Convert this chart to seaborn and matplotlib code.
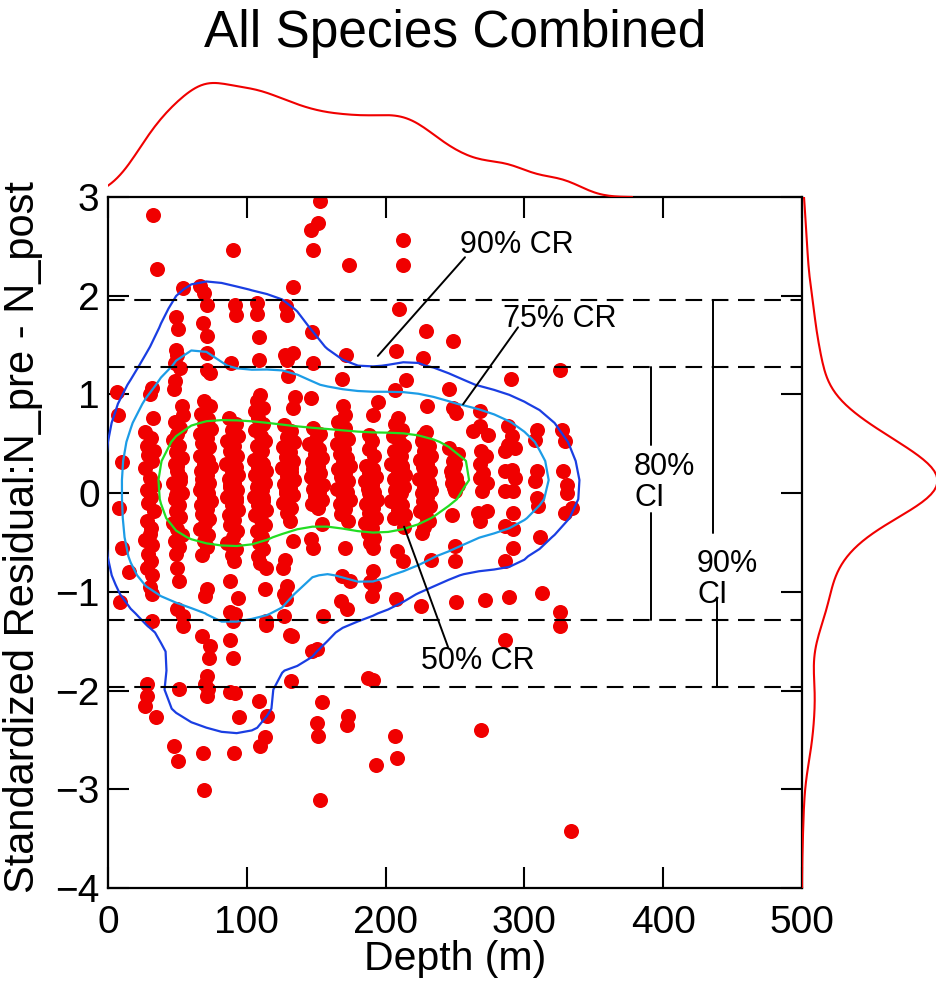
import matplotlib
matplotlib.use("Agg")
import matplotlib.pyplot as plt
import numpy as np
import pandas as pd
import seaborn as sns

# (depth in m, standardized residual N_pre - N_post) for each haul,
# grouped by the depth band it was sampled in
band_008 = [(6.5, 1.02), (7, 0.79), (10, 0.32), (8, -0.15), (10, -0.56), (15, -0.80), (8.6, -1.10)]

band_030 = [(32.4, 2.82), (35.3, 2.27), (31.7, 1.07), (30, 1.00), (32.4, 0.76), (27, 0.62), (31, 0.56),
            (28, 0.48), (33, 0.43), (29, 0.39), (32, 0.33), (27, 0.25), (30, 0.15), (33, 0.08), (28, 0.03),
            (31, -0.04), (29, -0.10), (33, -0.18), (28, -0.28), (31, -0.35), (30, -0.41), (27, -0.47),
            (32, -0.53), (29, -0.62), (31, -0.69), (28, -0.76), (32, -0.83), (30, -0.95), (31.7, -1.02),
            (31.7, -1.30), (28, -1.93), (28, -2.05), (26.6, -2.16), (34.6, -2.27)]

band_050 = [(54, 2.08), (49, 1.78), (50.4, 1.66), (49, 1.45), (49.7, 1.40), (48.3, 1.32), (51.9, 1.27),
            (48.3, 1.14), (47.5, 1.05), (53, 0.88), (54, 0.79), (48, 0.72), (52, 0.66), (50, 0.60),
            (47, 0.54), (51, 0.48), (49, 0.42), (53, 0.36), (48, 0.30), (50, 0.22), (52, 0.16), (47, 0.10),
            (50, 0.05), (53, 0.00), (48, -0.06), (51, -0.12), (49, -0.18), (52, -0.24), (47, -0.30),
            (50, -0.36), (53, -0.42), (48, -0.48), (51, -0.55), (49, -0.62), (50, -0.76), (51, -0.89),
            (49.7, -1.17), (54, -1.24), (54, -1.35), (51, -1.98), (47.5, -2.56), (50.4, -2.71),
            (50, 0.28), (52, 0.12), (49, -0.02)]

band_070 = [(66, 2.10), (69, 2.03), (71, 1.91), (68.4, 1.72), (71.3, 1.59), (71, 1.42), (71, 1.25),
            (73.5, 1.22), (69, 0.93), (73.5, 0.88), (67, 0.80), (72, 0.75), (69, 0.70), (74, 0.65),
            (66, 0.60), (71, 0.56), (68, 0.51), (73, 0.47), (70, 0.42), (66, 0.38), (72, 0.34), (69, 0.30),
            (74, 0.26), (67, 0.22), (71, 0.18), (68, 0.14), (73, 0.10), (70, 0.06), (66, 0.03), (72, 0.00),
            (69, -0.04), (74, -0.08), (67, -0.12), (71, -0.16), (68, -0.21), (73, -0.26), (70, -0.31),
            (66, -0.36), (72, -0.42), (69, -0.48), (71, -0.55), (68, -0.63), (71, -0.97), (70, -1.04),
            (67.7, -1.45), (73.5, -1.55), (72.8, -1.67), (71, -1.85), (70, -1.93), (72, -1.98),
            (71, -2.06), (68.4, -2.63), (69, -3.01),
            (70, 0.20), (68, 0.08), (72, -0.06), (70, 0.32), (69, -0.18)]

band_090 = [(90, 2.46), (91.5, 1.91), (92, 1.80), (88.6, 1.32), (87, 0.76), (92, 0.70), (89, 0.64),
            (94, 0.58), (86, 0.53), (91, 0.48), (88, 0.43), (93, 0.38), (90, 0.34), (85, 0.30), (92, 0.26),
            (89, 0.22), (94, 0.18), (87, 0.14), (91, 0.10), (88, 0.06), (93, 0.03), (90, 0.00), (86, -0.04),
            (92, -0.08), (89, -0.12), (94, -0.17), (87, -0.22), (91, -0.27), (88, -0.32), (93, -0.38),
            (90, -0.44), (86, -0.50), (92, -0.57), (89, -0.63), (91, -0.69), (88, -0.89), (94, -1.06),
            (88, -1.20), (91.5, -1.22), (90, -1.30), (88, -1.49), (90, -1.67), (88, -2.01), (91.5, -2.02),
            (94.4, -2.27), (90.8, -2.63),
            (90, 0.20), (88, 0.08), (92, -0.05), (90, 0.30), (89, -0.20)]

band_110 = [(107, 1.93), (107, 1.81), (108.8, 1.58), (108.8, 1.35), (109.5, 0.99), (107, 0.93),
            (111.7, 0.86), (106, 0.83), (108, 0.76), (112, 0.70), (106, 0.64), (110, 0.58), (113, 0.53),
            (107, 0.48), (111, 0.43), (109, 0.38), (105, 0.34), (112, 0.30), (108, 0.26), (114, 0.22),
            (106, 0.18), (110, 0.14), (113, 0.10), (107, 0.06), (111, 0.03), (109, 0.00), (105, -0.04),
            (112, -0.08), (108, -0.12), (114, -0.17), (106, -0.22), (110, -0.27), (113, -0.32),
            (107, -0.38), (111, -0.44), (109, -0.50), (112, -0.57), (108, -0.64), (109.5, -0.71),
            (114, -0.76), (113, -0.97), (114, -1.30), (114, -1.34), (109, -2.11), (114.5, -2.26),
            (113, -2.47), (109.5, -2.56),
            (110, 0.20), (108, 0.08), (112, -0.05), (110, 0.32), (109, -0.18)]

band_130 = [(133, 2.09), (128, 1.90), (129, 1.80), (133, 1.42), (127.5, 1.40), (129, 1.35), (129.7, 1.19),
            (134.7, 0.97), (133, 0.86), (127, 0.69), (132, 0.63), (129, 0.57), (134, 0.52), (126, 0.47),
            (131, 0.42), (128, 0.37), (133, 0.33), (130, 0.29), (125, 0.25), (132, 0.21), (129, 0.17),
            (134, 0.13), (127, 0.09), (131, 0.05), (128, 0.02), (133, -0.02), (130, -0.06), (126, -0.10),
            (132, -0.15), (129, -0.20), (131, -0.28), (133, -0.48), (127.5, -0.68), (126, -0.76),
            (129, -0.94), (127, -1.02), (128, -1.07), (127, -1.24), (131, -1.44), (132.6, -1.45),
            (132, -1.90),
            (130, 0.12), (128, 0.00), (132, 0.25), (130, -0.12)]

band_150 = [(152.7, 2.96), (151, 2.74), (146, 2.67), (147.7, 2.46), (147, 1.63), (147.7, 1.32), (146, 0.96),
            (148, 0.66), (153, 0.60), (150, 0.55), (145, 0.50), (152, 0.45), (149, 0.40), (154, 0.36),
            (147, 0.32), (151, 0.28), (148, 0.24), (153, 0.20), (146, 0.16), (150, 0.12), (155, 0.08),
            (148, 0.04), (152, 0.01), (149, -0.03), (154, -0.07), (147, -0.11), (151, -0.15), (154, -0.31),
            (146, -0.46), (148, -0.56), (155, -1.24), (147, -1.60), (150.6, -1.58), (154, -2.12),
            (150.6, -2.33), (151, -2.46), (152.7, -3.11),
            (150, 0.15), (152, 0.05), (148, 0.30), (150, -0.08)]

band_170 = [(173.6, 2.31), (171.5, 1.40), (168.6, 1.16), (169, 0.88), (170.7, 0.79), (166, 0.72),
            (171, 0.66), (168, 0.60), (173, 0.55), (165, 0.50), (170, 0.45), (167, 0.40), (172, 0.36),
            (169, 0.32), (174, 0.28), (166, 0.24), (171, 0.20), (168, 0.16), (173, 0.12), (170, 0.08),
            (165, 0.04), (172, 0.01), (169, -0.03), (174, -0.07), (167, -0.11), (171, -0.16), (168, -0.21),
            (173, -0.28), (170.7, -0.56), (168.6, -0.84), (174, -0.89), (168, -1.09), (172, -1.17),
            (173, -2.26), (172, -2.35),
            (170, 0.15), (168, 0.05), (172, 0.30), (170, -0.10)]

band_190 = [(194.5, 0.92), (191, 0.79), (188, 0.59), (190, 0.53), (188, 0.45), (192, 0.38), (186, 0.28),
            (191, 0.24), (188, 0.20), (193, 0.16), (185, 0.12), (190, 0.08), (187, 0.04), (192, 0.01),
            (189, -0.03), (194, -0.07), (186, -0.11), (191, -0.15), (188, -0.20), (193, -0.25),
            (185, -0.30), (190, -0.35), (187, -0.40), (192, -0.45), (189, -0.50), (191, -0.56),
            (191, -0.79), (189, -0.90), (192, -0.94), (190, -1.04), (187, -1.87), (191, -1.89),
            (193, -2.75),
            (190, 0.10), (188, 0.00), (192, 0.18), (190, -0.12)]

band_210 = [(212.5, 2.56), (212.5, 2.31), (209.7, 1.87), (207.5, 1.44), (214.7, 1.15), (206.8, 1.04),
            (209, 0.76), (207, 0.70), (212, 0.64), (205, 0.58), (210, 0.53), (213, 0.48), (206, 0.43),
            (211, 0.38), (208, 0.34), (204, 0.30), (212, 0.26), (209, 0.22), (214, 0.18), (206, 0.14),
            (210, 0.10), (213, 0.06), (207, 0.03), (211, 0.00), (208, -0.04), (204, -0.08), (212, -0.12),
            (209, -0.17), (214, -0.22), (206, -0.25), (213.3, -0.34), (208, -0.59), (212.5, -0.69),
            (207.5, -1.07), (206.8, -2.46), (208, -2.68),
            (210, 0.15), (208, 0.05), (212, 0.28), (210, -0.08)]

band_230 = [(229, 1.64), (227, 1.37), (230, 0.88), (229, 0.62), (227, 0.58), (226, 0.53), (231, 0.48),
            (228, 0.43), (233, 0.38), (225, 0.34), (230, 0.30), (227, 0.26), (232, 0.22), (229, 0.18),
            (224, 0.14), (231, 0.10), (228, 0.06), (233, 0.03), (226, 0.00), (230, -0.04), (227, -0.08),
            (232, -0.13), (225, -0.18), (229, -0.23), (231, -0.28), (228, -0.34), (226, -0.40),
            (233, -0.68), (225.5, -1.14),
            (229, 0.12), (231, 0.02), (228, 0.25), (230, -0.10)]

band_250 = [(248.6, 1.54), (246, 1.05), (248.6, 0.86), (251, 0.81), (246, 0.46), (251, 0.39), (248.6, 0.33),
            (249, 0.26), (247.8, 0.18), (251, 0.12), (252, 0.08), (250, 0.02), (248, -0.22), (250, -0.54),
            (250, -0.69), (251, -1.10),
            (249, 0.05), (251, 0.15), (247, 0.22), (250, 0.30), (252, 0.40), (248, 0.10)]

band_270 = [(268, 0.83), (268, 0.68), (263, 0.63), (274, 0.59), (269, 0.43), (268, 0.15), (273, 0.10),
            (269.5, 0.02), (266.6, -0.20), (273, -0.18), (268, -0.28), (271.6, -1.08), (268.7, -2.40),
            (268, 0.30), (270, 0.20), (272, 0.38)]

band_290 = [(290, 1.16), (288, 0.68), (291, 0.58), (288, 0.49), (293, 0.46), (286, 0.43), (286, 0.22),
            (291, 0.23), (293, 0.15), (286, 0.02), (292, 0.02), (292, -0.20), (286, -0.33), (292, -0.36),
            (292, -0.56), (286, -0.69), (289, -1.05), (286, -1.49)]

band_310 = [(309, 0.64), (307.6, 0.54), (309, 0.22), (307.6, 0.12), (309, -0.05), (310, -0.13),
            (311, -0.44), (313, -1.01)]

band_330 = [(325.6, 1.25), (327, 0.64), (329, 0.53), (328, 0.22), (331, 0.08), (330.7, 0.00), (334, -0.15),
            (329, -0.20), (325.6, -1.20), (326, -1.35), (333.6, -3.42)]

bands = [band_008, band_030, band_050, band_070, band_090, band_110, band_130, band_150, band_170,
         band_190, band_210, band_230, band_250, band_270, band_290, band_310, band_330]

# two-sided normal critical values for the 80% and 90% intervals
ci_bounds = [1.2816, 1.96]
# credible regions: share of hauls enclosed by each density contour
cr_mass = [0.90, 0.75, 0.50]

RED = "#f00000"
CR_COLORS = ["#1a3ee2", "#1c9ce6", "#22dd22"]

df = pd.DataFrame([p for b in bands for p in b], columns=["depth", "resid"])
depth = df["depth"].to_numpy(float)
resid = df["resid"].to_numpy(float)

# --- highest-density credible regions ---------------------------------------
# Gaussian product-kernel density with separate bandwidths for depth and
# residual; each region is the density level set enclosing the stated share
# of hauls.
HX, HY = 22.0, 0.32
gx = np.linspace(-60, 420, 45)
gy = np.linspace(-4.5, 3.8, 44)
gxx, gyy = np.meshgrid(gx, gy)


def density(px, py):
    u = (px[..., None] - depth) / HX
    v = (py[..., None] - resid) / HY
    return np.exp(-0.5 * (u * u + v * v)).sum(-1)


grid_dens = density(gxx, gyy)
point_dens = density(depth, resid)
thresholds = np.quantile(point_dens, [1 - m for m in cr_mass])

sns.set_style("ticks")
plt.rcParams.update({
    "font.family": ["Liberation Sans", "DejaVu Sans"],
    "text.color": "black",
    "axes.labelcolor": "black",
    "xtick.color": "black",
    "ytick.color": "black",
    "axes.edgecolor": "black",
})

W, H = 936, 999
fig = plt.figure(figsize=(W / 100, H / 100), dpi=100)


def rect(left, top, right, bottom):
    return [left / W, 1 - bottom / H, (right - left) / W, (bottom - top) / H]


ax = fig.add_axes(rect(108, 197, 802, 888))
ax_top = fig.add_axes(rect(108, 77, 802, 197))
ax_right = fig.add_axes(rect(802, 197, 936, 888))

# joint scatter and density credible regions
sns.scatterplot(data=df, x="depth", y="resid", color=RED, s=117, linewidth=0, ax=ax, zorder=2)
ax.contour(gxx, gyy, grid_dens, levels=thresholds, colors=CR_COLORS, linewidths=1.6, zorder=3)

dash = (0, (8.0, 4.6))
for b in ci_bounds:
    for v in (b, -b):
        ax.axhline(v, color="black", lw=1.5, linestyle=dash, zorder=4)

ax.set_xlim(0, 500)
ax.set_ylim(-4, 3)
ax.set_xticks([0, 100, 200, 300, 400, 500])
ax.set_yticks([-4, -3, -2, -1, 0, 1, 2, 3])
ax.tick_params(direction="in", length=15, width=1.5, labelsize=28, top=True, right=True)
ax.tick_params(axis="x", pad=12)
ax.tick_params(axis="y", pad=6)
for sp in ax.spines.values():
    sp.set_linewidth(1.6)
    sp.set_color("black")

ax.set_xlabel("Depth (m)", fontsize=29.5)
ax.set_ylabel("Standardized Residual:N_pre - N_post", fontsize=30)
ax.xaxis.set_label_coords(0.5, -0.075)
ax.yaxis.set_label_coords(-0.093, 0.508)

# credible-region callouts
ann = dict(color="black", lw=1.4, zorder=5)
ax.plot([194.4, 257.2], [1.39, 2.39], **ann)
ax.plot([255.8, 295.4], [0.90, 1.68], **ann)
ax.plot([213.3, 245.0], [-0.34, -1.56], **ann)
ax.text(294.7, 2.51, "90% CR", fontsize=22, ha="center", va="center")
ax.text(325.6, 1.76, "75% CR", fontsize=22, ha="center", va="center")
ax.text(266.6, -1.70, "50% CR", fontsize=22, ha="center", va="center")

# confidence-interval brackets
ax.plot([391.5, 391.5], [ci_bounds[0], 0.49], **ann)
ax.plot([391.5, 391.5], [-0.20, -ci_bounds[0]], **ann)
ax.text(379, 0.11, "80%\nCI", fontsize=22, ha="left", va="center", linespacing=1.05)
ax.plot([436, 436], [ci_bounds[1], -0.40], **ann)
ax.plot([439, 439], [-1.07, -ci_bounds[1]], **ann)
ax.text(424.4, -0.875, "90%\nCI", fontsize=22, ha="left", va="center", linespacing=1.05)

# marginal densities
sns.kdeplot(data=df, x="depth", color=RED, lw=1.5, bw_adjust=0.65, ax=ax_top)
ax_top.set_xlim(0, 500)
top_peak = max(l.get_ydata().max() for l in ax_top.get_lines())
ax_top.set_ylim(0, top_peak * 120 / 114)
ax_top.axis("off")

sns.kdeplot(data=df, y="resid", color=RED, lw=1.5, bw_adjust=0.9, ax=ax_right)
ax_right.set_ylim(-4, 3)
right_peak = max(l.get_xdata().max() for l in ax_right.get_lines())
ax_right.set_xlim(0, right_peak * 0.99)
ax_right.axis("off")

fig.text(455 / W, 1 - 33 / H, "All Species Combined", fontsize=37, ha="center", va="center")

fig.savefig("out.png", dpi=100)
